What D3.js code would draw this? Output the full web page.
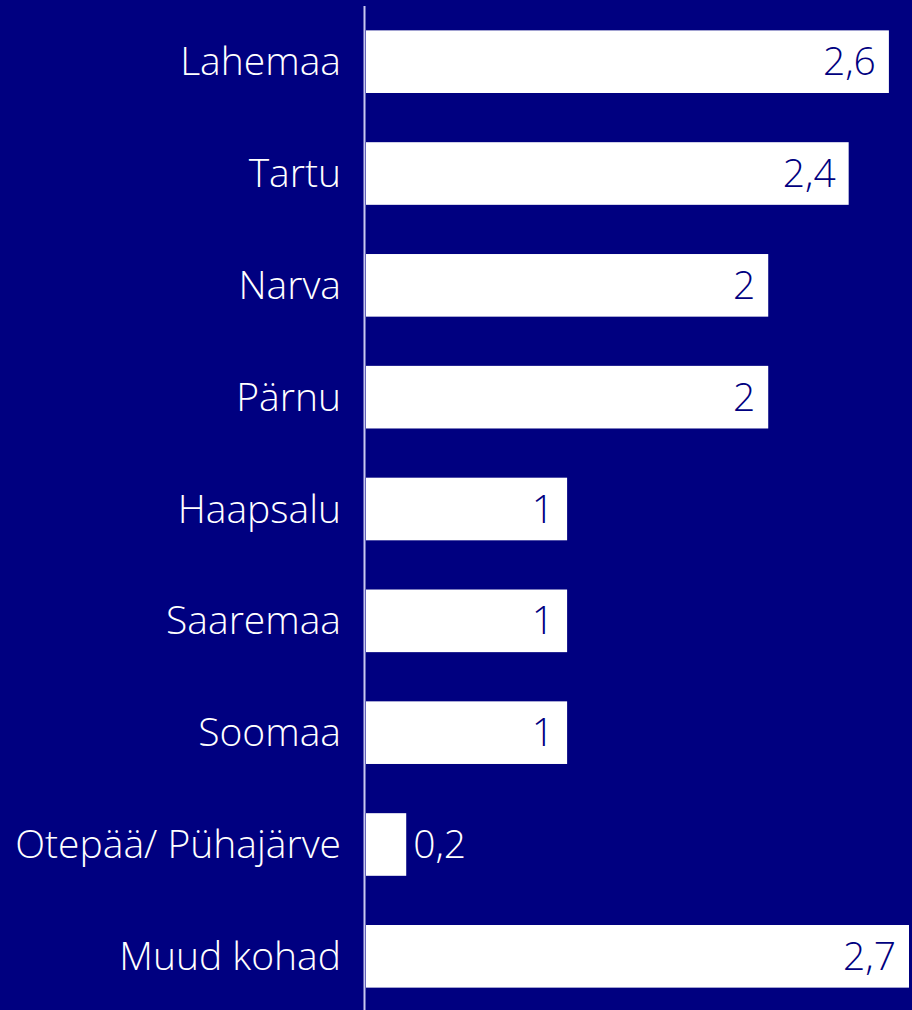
<!DOCTYPE html>
<html>
<head>
<meta charset="utf-8">
<script src="https://cdn.jsdelivr.net/npm/d3@7"></script>
<style>
  html, body { margin: 0; padding: 0; background: #000080; }
  svg { display: block; }
  text { font-family: "Open Sans", Lato, sans-serif; font-weight: 300; }
</style>
</head>
<body>
<div id="chart"></div>
<script>
// data
var categories = ["Lahemaa", "Tartu", "Narva", "Pärnu", "Haapsalu", "Saaremaa", "Soomaa", "Otepää/ Pühajärve", "Muud kohad"];
var values = [2.6, 2.4, 2, 2, 1, 1, 1, 0.2, 2.7];
var valueLabels = ["2,6", "2,4", "2", "2", "1", "1", "1", "0,2", "2,7"];

var svgWidth = 912;
var svgHeight = 1010;

var margin = { top: 8, right: 3, bottom: 0, left: 366 };
var width = svgWidth - margin.left - margin.right;
var height = svgHeight - margin.top - margin.bottom;

var svg = d3.select("#chart")
  .append("svg")
  .attr("width", svgWidth)
  .attr("height", svgHeight);

svg.append("rect")
  .attr("width", svgWidth)
  .attr("height", svgHeight)
  .attr("fill", "#000080");

var chartGroup = svg.append("g")
  .attr("transform", `translate(${margin.left}, ${margin.top})`);

var xScale = d3.scaleLinear()
  .domain([0, 2.7])
  .range([0, 543]);

var yScale = d3.scaleBand()
  .domain(categories)
  .range([0, height])
  .paddingInner(0.44)
  .paddingOuter(0.2);

// bars
chartGroup.selectAll("rect.bar")
  .data(values)
  .enter()
  .append("rect")
  .attr("class", "bar")
  .attr("x", 0)
  .attr("y", (d, i) => yScale(categories[i]))
  .attr("width", d => xScale(d))
  .attr("height", yScale.bandwidth())
  .attr("fill", "#ffffff");

// category labels
var leftAxis = d3.axisLeft(yScale).tickSize(0).tickPadding(24);
var axisG = chartGroup.append("g")
  .attr("transform", "translate(-1, 0)")
  .call(leftAxis);
axisG.select(".domain").remove();
axisG.selectAll("text")
  .attr("fill", "#ffffff")
  .style("font-size", "39px")
  .attr("dy", "0.35em");

// axis line
chartGroup.append("line")
  .attr("x1", -1.5)
  .attr("x2", -1.5)
  .attr("y1", -2)
  .attr("y2", height)
  .attr("stroke", "#c8c8f0")
  .attr("stroke-width", 2);

// value labels
chartGroup.selectAll("text.value")
  .data(values)
  .enter()
  .append("text")
  .attr("class", "value")
  .attr("x", d => d < 0.5 ? xScale(d) + 7 : xScale(d) - 13)
  .attr("y", (d, i) => yScale(categories[i]) + yScale.bandwidth() / 2)
  .attr("dy", "0.35em")
  .attr("text-anchor", d => d < 0.5 ? "start" : "end")
  .attr("fill", d => d < 0.5 ? "#ffffff" : "#000080")
  .style("font-size", "39px")
  .text((d, i) => valueLabels[i]);
</script>
</body>
</html>
